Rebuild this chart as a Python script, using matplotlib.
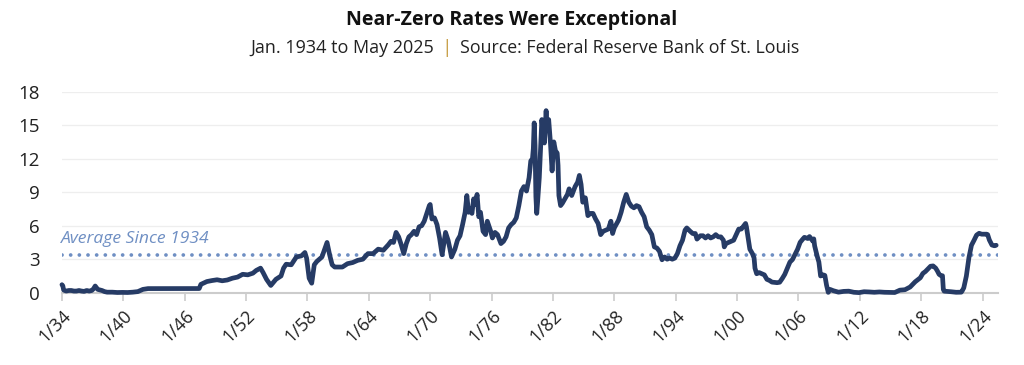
#!/usr/bin/env python3
"""Near-zero rates chart: 3-month T-bill rate, Jan 1934 - May 2025."""
import numpy as np
import pandas as pd
import matplotlib
matplotlib.use("Agg")
import matplotlib.pyplot as plt

plt.rcParams["font.family"] = ["Open Sans", "Noto Sans", "DejaVu Sans"]

# month stamps and rates (%)
dates = [
    "1934-01", "1934-02", "1934-03", "1934-06", "1934-09", "1934-12",
    "1935-03", "1935-06", "1935-09", "1935-12",
    "1936-03", "1936-06", "1936-09", "1936-12",
    "1937-02", "1937-04", "1937-07", "1937-12",
    "1938-03", "1938-06", "1938-12",
    "1939-06", "1939-12",
    "1940-06", "1940-12",
    "1941-06", "1941-12",
    "1942-06", "1947-06", "1947-08",
    "1948-03", "1948-09", "1949-03", "1949-09",
    "1950-03", "1950-09", "1951-03", "1951-09",
    "1952-03", "1952-09", "1953-01", "1953-06", "1953-09",
    "1954-01", "1954-06", "1954-12",
    "1955-06", "1955-09", "1955-12",
    "1956-06", "1956-12", "1957-06", "1957-10", "1957-12",
    "1958-03", "1958-06", "1958-09", "1958-12",
    "1959-06", "1959-12",
    "1960-03", "1960-06", "1960-09", "1960-12",
    "1961-06", "1961-12", "1962-06", "1962-12",
    "1963-06", "1963-12", "1964-06", "1964-12",
    "1965-06", "1965-12",
    "1966-03", "1966-06", "1966-09", "1966-12",
    "1967-03", "1967-06", "1967-09", "1967-12",
    "1968-03", "1968-06", "1968-09", "1968-12",
    "1969-03", "1969-06", "1969-09", "1969-12",
    "1970-01", "1970-03", "1970-06", "1970-09", "1970-12",
    "1971-03", "1971-07", "1971-10", "1971-12",
    "1972-02", "1972-06", "1972-09", "1972-12",
    "1973-03", "1973-06", "1973-08", "1973-10", "1973-12",
    "1974-02", "1974-04", "1974-06", "1974-08", "1974-10", "1974-12",
    "1975-03", "1975-06", "1975-08", "1975-12",
    "1976-02", "1976-05", "1976-08", "1976-12",
    "1977-03", "1977-06", "1977-09", "1977-12",
    "1978-03", "1978-06", "1978-09", "1978-12",
    "1979-03", "1979-06", "1979-09", "1979-11",
    "1980-01", "1980-02", "1980-03", "1980-04", "1980-05", "1980-06",
    "1980-07", "1980-09", "1980-11", "1980-12",
    "1981-01", "1981-03", "1981-05", "1981-06", "1981-08", "1981-10",
    "1981-12",
    "1982-02", "1982-04", "1982-06", "1982-07", "1982-08", "1982-10",
    "1982-12",
    "1983-03", "1983-06", "1983-08", "1983-11",
    "1984-03", "1984-06", "1984-08", "1984-10", "1984-12",
    "1985-03", "1985-06", "1985-09", "1985-12",
    "1986-03", "1986-06", "1986-09", "1986-12",
    "1987-03", "1987-06", "1987-09", "1987-11",
    "1988-01", "1988-06", "1988-09", "1988-12",
    "1989-03", "1989-06", "1989-09", "1989-12",
    "1990-03", "1990-06", "1990-09", "1990-12",
    "1991-03", "1991-06", "1991-09", "1991-12",
    "1992-03", "1992-06", "1992-09", "1992-12",
    "1993-03", "1993-06", "1993-09", "1993-12",
    "1994-03", "1994-06", "1994-09", "1994-12",
    "1995-02", "1995-06", "1995-09", "1995-12",
    "1996-02", "1996-06", "1996-09", "1996-12",
    "1997-03", "1997-06", "1997-09", "1997-12",
    "1998-03", "1998-06", "1998-09", "1998-10", "1998-12",
    "1999-03", "1999-06", "1999-09", "1999-12",
    "2000-03", "2000-06", "2000-09", "2000-11", "2000-12",
    "2001-02", "2001-04", "2001-07", "2001-09", "2001-10", "2001-12",
    "2002-03", "2002-06", "2002-09", "2002-12",
    "2003-03", "2003-06", "2003-12",
    "2004-03", "2004-06", "2004-09", "2004-12",
    "2005-03", "2005-06", "2005-09", "2005-12",
    "2006-03", "2006-06", "2006-08", "2006-12",
    "2007-02", "2007-06", "2007-07", "2007-08", "2007-11",
    "2008-01", "2008-03", "2008-06", "2008-08", "2008-09", "2008-10",
    "2008-12",
    "2009-02", "2009-06", "2009-12",
    "2010-06", "2010-12", "2011-06", "2011-12",
    "2012-06", "2012-12", "2013-06", "2013-12",
    "2014-06", "2014-12", "2015-06", "2015-12",
    "2016-06", "2016-12",
    "2017-03", "2017-06", "2017-12",
    "2018-03", "2018-06", "2018-09", "2018-12",
    "2019-03", "2019-06", "2019-08", "2019-10", "2019-12",
    "2020-02", "2020-03", "2020-04", "2020-12",
    "2021-06", "2021-12",
    "2022-01", "2022-03", "2022-06", "2022-09", "2022-12",
    "2023-03", "2023-06", "2023-09", "2023-12",
    "2024-03", "2024-06", "2024-07", "2024-09", "2024-12",
    "2025-03", "2025-05",
]
rates = [
    0.72, 0.62, 0.24, 0.15, 0.20, 0.20,
    0.15, 0.15, 0.20, 0.15,
    0.12, 0.20, 0.15, 0.20,
    0.35, 0.60, 0.30, 0.20,
    0.10, 0.05, 0.05,
    0.02, 0.03,
    0.02, 0.05,
    0.10, 0.30,
    0.37, 0.375, 0.75,
    1.00, 1.09, 1.16, 1.07,
    1.14, 1.30, 1.40, 1.65,
    1.60, 1.75, 2.00, 2.20, 1.80,
    1.20, 0.65, 1.20,
    1.50, 2.20, 2.55,
    2.50, 3.20, 3.30, 3.60, 3.10,
    1.30, 0.85, 2.50, 2.80,
    3.20, 4.50,
    3.40, 2.50, 2.30, 2.30,
    2.30, 2.60, 2.70, 2.90,
    3.00, 3.50, 3.50, 3.90,
    3.80, 4.30,
    4.60, 4.50, 5.40, 5.00,
    4.30, 3.50, 4.40, 5.00,
    5.20, 5.50, 5.20, 5.90,
    6.00, 6.40, 7.10, 7.80,
    7.90, 6.60, 6.70, 6.10, 4.90,
    3.40, 5.40, 4.70, 4.00,
    3.20, 3.90, 4.70, 5.10,
    6.10, 7.20, 8.70, 7.20, 7.50,
    7.10, 8.40, 7.90, 8.80, 6.80, 7.20,
    5.50, 5.20, 6.40, 5.50,
    4.90, 5.40, 5.20, 4.40,
    4.60, 5.00, 5.80, 6.10,
    6.30, 6.70, 7.80, 9.10,
    9.50, 9.10, 10.30, 11.80,
    12.00, 12.90, 15.20, 13.20, 8.60, 7.10,
    8.10, 10.30, 13.70, 15.50,
    14.70, 13.40, 16.30, 14.70, 15.50, 13.50,
    10.90,
    13.50, 12.70, 12.50, 11.40, 8.70, 7.80,
    8.00,
    8.40, 8.80, 9.30, 8.70,
    9.50, 9.90, 10.50, 9.70, 8.10,
    8.50, 6.90, 7.10, 7.10,
    6.60, 6.20, 5.20, 5.50,
    5.60, 5.70, 6.40, 5.30,
    5.80, 6.50, 7.20, 8.10,
    8.80, 8.10, 7.75, 7.60,
    7.80, 7.70, 7.20, 6.80,
    5.90, 5.60, 5.20, 4.10,
    4.00, 3.70, 2.95, 3.20,
    3.00, 3.10, 3.00, 3.10,
    3.50, 4.20, 4.70, 5.60,
    5.80, 5.50, 5.30, 5.30,
    4.80, 5.10, 5.10, 4.90,
    5.10, 4.90, 5.00, 5.20,
    5.00, 5.00, 4.70, 4.10, 4.40,
    4.50, 4.60, 4.70, 5.20,
    5.70, 5.70, 6.00, 6.20, 5.90,
    4.90, 3.90, 3.50, 3.10, 2.20, 1.70,
    1.80, 1.70, 1.60, 1.20,
    1.10, 0.95, 0.90,
    0.94, 1.27, 1.65, 2.19,
    2.74, 2.97, 3.42, 3.89,
    4.51, 4.79, 4.96, 4.85,
    5.03, 4.61, 4.82, 4.20, 3.27,
    2.75, 1.50, 1.60, 1.55, 1.13, 0.67,
    0.03,
    0.30, 0.18, 0.05,
    0.12, 0.14, 0.04, 0.01,
    0.09, 0.07, 0.04, 0.07,
    0.04, 0.03, 0.02, 0.23,
    0.27, 0.51,
    0.75, 0.98, 1.34,
    1.73, 1.90, 2.13, 2.37,
    2.40, 2.20, 1.95, 1.65, 1.54,
    1.52, 0.29, 0.14, 0.09,
    0.04, 0.05,
    0.15, 0.44, 1.49, 3.13, 4.25,
    4.69, 5.16, 5.32, 5.24,
    5.24, 5.24, 5.20, 4.72, 4.27,
    4.20, 4.25,
]
average = 3.37
tick_years = list(range(1934, 2025, 6))
tick_labels = [f"1/{y % 100:02d}" for y in tick_years]
y_ticks = [0, 3, 6, 9, 12, 15, 18]

NAVY = "#263b65"
AVG_BLUE = "#6f8fc3"
GOLD = "#c9a24d"

d = pd.to_datetime(dates)
x = d.year + (d.month - 1) / 12.0

fig = plt.figure(figsize=(10.24, 3.65), dpi=100)
ax = fig.add_axes([0.0605, 0.198, 0.914, 0.551])

ax.plot(x, rates, color=NAVY, lw=3.4, solid_joinstyle="round",
        solid_capstyle="round", clip_on=False, zorder=3)
ax.axhline(average, color=AVG_BLUE, lw=2.7, linestyle=(0, (0.01, 2.3)),
           dash_capstyle="round", zorder=2)
ax.text(1933.9, 4.8, "Average Since 1934", color=AVG_BLUE, style="italic",
        fontsize=12.6, va="center", ha="left")

ax.set_xlim(1934, 2025.5)
ax.set_ylim(0, 18)
ax.set_yticks(y_ticks)
ax.set_xticks(tick_years)
ax.set_xticklabels(tick_labels, rotation=45, ha="right",
                   rotation_mode="anchor")
ax.tick_params(axis="y", length=0, pad=16, labelsize=13.5,
               labelcolor="#222222")
ax.tick_params(axis="x", length=6, width=1.2, color="#cccccc", pad=4,
               labelsize=13, labelcolor="#222222")
ax.grid(axis="y", color="#eeeeee", lw=0.9)
ax.set_axisbelow(True)
for s in ("top", "right", "left"):
    ax.spines[s].set_visible(False)
ax.spines["bottom"].set_color("#cccccc")
ax.spines["bottom"].set_linewidth(1.5)

fig.text(0.5, 0.945, "Near-Zero Rates Were Exceptional", ha="center",
         va="center", fontsize=14, fontweight="bold", color="#111111")
fig.text(0.424, 0.868, "Jan. 1934 to May 2025", ha="right", va="center",
         fontsize=13, color="#222222")
fig.text(0.4365, 0.868, "|", ha="center", va="center", fontsize=14,
         color=GOLD)
fig.text(0.449, 0.868, "Source: Federal Reserve Bank of St. Louis",
         ha="left", va="center", fontsize=12.8, color="#222222")

fig.savefig("out.png", dpi=100)
